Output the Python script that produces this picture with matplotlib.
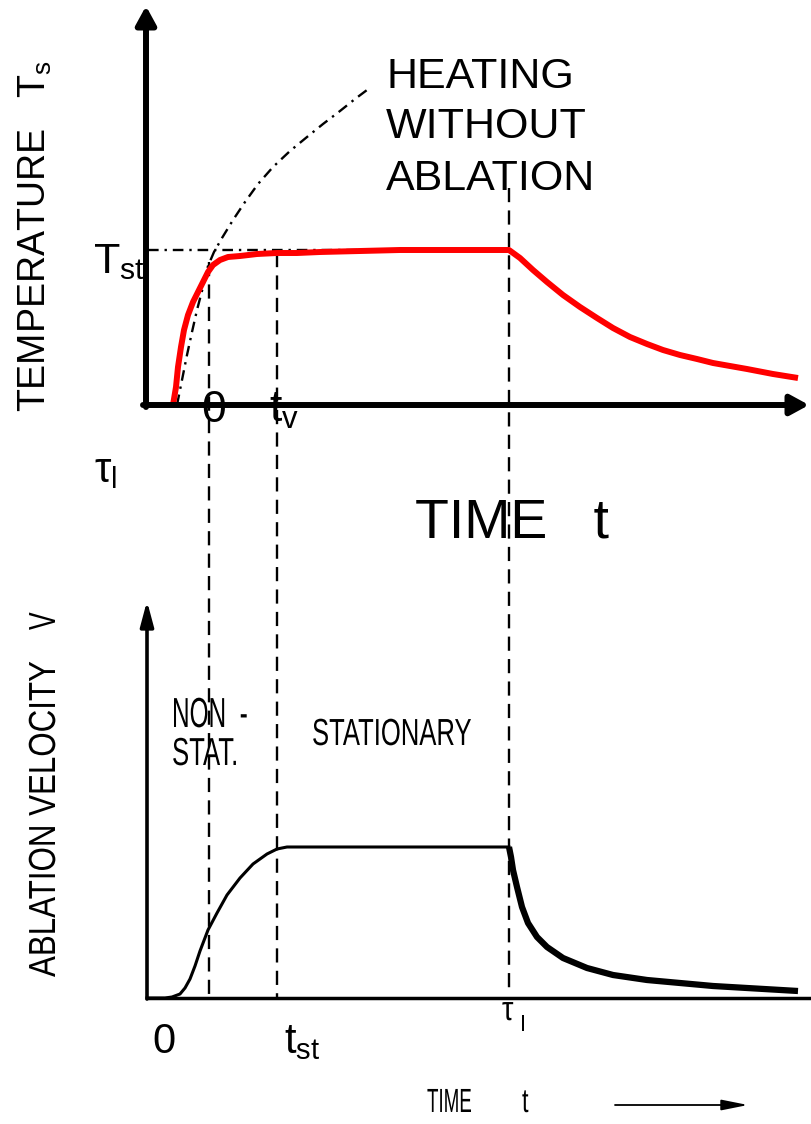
import matplotlib
matplotlib.use('agg')
import matplotlib.pyplot as plt
from matplotlib.textpath import TextPath
from matplotlib.patches import PathPatch
from matplotlib.font_manager import FontProperties
from matplotlib.transforms import Affine2D

plt.rcParams['font.family'] = ['Liberation Sans', 'DejaVu Sans']
plt.rcParams['mathtext.fontset'] = 'custom'
plt.rcParams['mathtext.rm'] = 'Liberation Sans'
plt.rcParams['mathtext.it'] = 'Liberation Sans:italic'

# surface temperature (red)
temp_x = [173, 176, 178, 181, 184, 188, 193, 198, 203, 208, 213, 220, 228, 240,
          257, 277, 297, 320, 400, 509,
          520, 533, 547, 563, 580, 597, 613, 630, 647, 663, 680, 697, 713, 747,
          773, 798]
temp_y = [405, 387, 367, 347, 330, 315, 302, 292, 282, 272, 265, 260, 257, 256,
          254, 253, 253, 252, 250, 250,
          258, 270, 282, 295, 307, 318, 328, 337, 344, 350, 355, 359, 363, 369,
          374, 378]

# heating without ablation (dash-dot)
heat_x = [177, 182, 187, 192, 197, 203, 208, 214, 222, 233, 245, 258, 273, 290,
          307, 323, 340, 355, 371]
heat_y = [405, 380, 355, 332, 310, 287, 266, 252, 238, 220, 202, 184, 167, 151,
          137, 124, 111, 99, 87]
t_st_level = 250
t_st_from = 148

# ablation velocity
vel_x = [147, 165, 172, 180, 185, 190, 195, 200, 208, 217, 227, 240, 253, 267,
         277, 287, 509]
vel_y = [998, 998, 997, 994, 988, 979, 966, 951, 930, 913, 895, 878, 864, 854,
         849, 847, 847]
decay_x = [509, 511, 513, 517, 522, 528, 537, 547, 563, 587, 613, 647, 680, 713,
           747, 798]
decay_y = [847, 857, 870, 887, 907, 923, 937, 947, 958, 968, 975, 980, 983, 986,
           988, 991]

# vertical guide lines: 0, t_v / t_st, tau_l
guide_x = [209, 277, 509]
guide_top = [262, 253, 188]
guide_bottom = [998, 998, 992]

fig = plt.figure(figsize=(8.11, 11.24), dpi=100)
ax = fig.add_axes([0, 0, 1, 1])
ax.set_xlim(0, 811)
ax.set_ylim(1124, 0)
ax.axis('off')


def squeezed(x, y, s, size, sx, rot=0):
    # hand lettered look: narrow text drawn as a path
    path = TextPath((0, 0), s, size=size, prop=FontProperties(family='Liberation Sans'))
    x0, y0 = ax.transData.transform((x, y))
    tr = Affine2D().scale(sx, 1).rotate_deg(rot).translate(x0, y0)
    ax.add_patch(PathPatch(path, transform=tr, facecolor='black', edgecolor='none'))


def arrow(x0, y0, x1, y1, lw, hl, hw):
    ax.annotate('', xy=(x1, y1), xytext=(x0, y0),
                arrowprops=dict(arrowstyle='-|>,head_length=%s,head_width=%s' % (hl, hw),
                                lw=lw, color='black', shrinkA=0, shrinkB=0,
                                mutation_scale=20))


# guides
for gx, g0, g1 in zip(guide_x, guide_top, guide_bottom):
    ax.plot([gx, gx], [g0, g1], color='black', lw=1.7, dashes=[6, 3.5])

# top panel
dashdot = [4.5, 2.5, 1, 2.5]
ax.plot([t_st_from, guide_x[2]], [t_st_level, t_st_level], color='black', lw=1.7,
        dashes=dashdot)
ax.plot(heat_x, heat_y, color='black', lw=1.7, dashes=dashdot,
        solid_joinstyle='round', dash_joinstyle='round')
ax.plot(temp_x, temp_y, color='#ff0000', lw=4.3, solid_capstyle='butt',
        solid_joinstyle='round')
arrow(146, 407, 146, 6, 4.3, 0.55, 0.3)
arrow(143, 405, 809, 405, 4.3, 0.55, 0.3)

ax.text(35, 236, r'TEMPERATURE   $\mathregular{T_s}$', rotation=90, ha='center',
        va='center', fontsize=27)
ax.text(145, 273, r'$\mathregular{T_{st}}$', ha='right', va='baseline', fontsize=31)
ax.text(214, 422, '0', ha='center', va='baseline', fontsize=32)
ax.text(269, 422, r'$\mathregular{t_v}$', ha='left', va='baseline', fontsize=32)
ax.text(94, 482, r'$\mathregular{\tau_l}$', ha='left', va='baseline', fontsize=30)
ax.text(415, 537, 'TIME   t', ha='left', va='baseline', fontsize=40)
ax.text(386, 88, 'HEATING', ha='left', va='baseline', fontsize=31)
ax.text(386, 138, 'WITHOUT', ha='left', va='baseline', fontsize=31)
ax.text(386, 190, 'ABLATION', ha='left', va='baseline', fontsize=31)

# bottom panel
ax.plot(vel_x, vel_y, color='black', lw=2.2, solid_joinstyle='round')
ax.plot(decay_x, decay_y, color='black', lw=4.5, solid_capstyle='butt',
        solid_joinstyle='round')
ax.plot([147, 809], [998, 998], color='black', lw=2.5)
arrow(147, 999, 147, 601, 2.6, 0.75, 0.2)
arrow(615, 1105, 748, 1105, 1.3, 0.8, 0.16)

squeezed(55, 977, 'ABLATION VELOCITY', 37.7, 0.83, rot=90)
squeezed(55, 630, 'V', 37.7, 0.7, rot=90)
squeezed(172, 727, 'NON  -', 42, 0.58)
squeezed(172, 765, 'STAT.', 39, 0.66)
squeezed(312, 745, 'STATIONARY', 37.7, 0.68)
squeezed(427, 1112, 'TIME', 33.5, 0.56)
squeezed(522, 1112, 't', 33.5, 0.7)
squeezed(502, 1020, 'τ', 34, 0.85)
squeezed(521, 1031, 'l', 22, 0.8)

ax.text(152, 1053, '0', ha='left', va='baseline', fontsize=30)
ax.text(284, 1053, r'$\mathregular{t_{st}}$', ha='left', va='baseline', fontsize=30)

fig.savefig('out.png', dpi=100)
